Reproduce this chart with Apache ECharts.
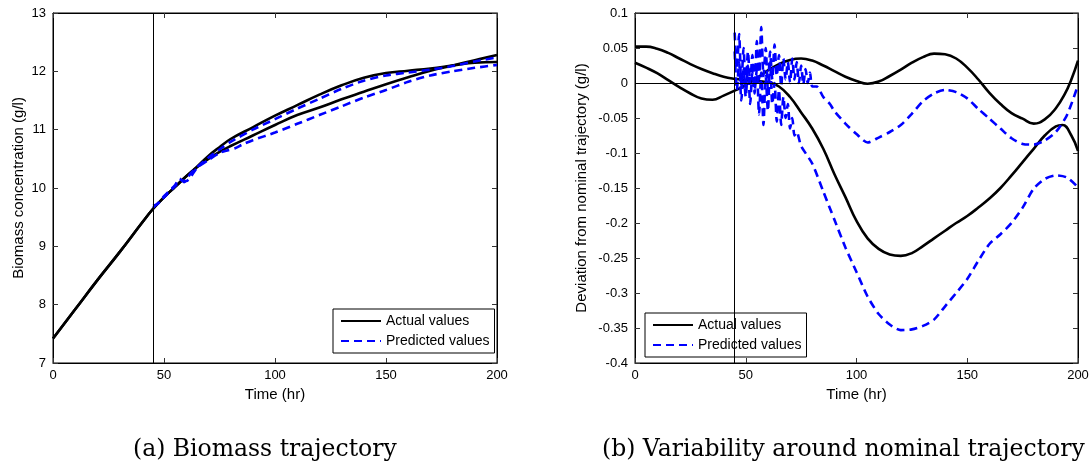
<!DOCTYPE html>
<html>
<head>
<meta charset="utf-8">
<script src="https://cdn.jsdelivr.net/npm/echarts@6/dist/echarts.min.js"></script>
<style>
    html, body { margin: 0; padding: 0; background: #fff; }
    #chart { width: 1092px; height: 466px; }
</style>
</head>
<body>
<div id="chart"></div>
<script>
    // (a) biomass trajectory, [time, g/l]
    var biomassActual1 = [[0,7.42],[10,7.92],[20,8.42],[30,8.9],[40,9.4],[45,9.64],[50,9.84],[55,10.02],[60,10.2],[65,10.37],[70,10.55],[75,10.7],[80,10.84],[90,11.04],[100,11.24],[110,11.42],[120,11.6],[130,11.76],[140,11.89],[150,11.97],[160,12.01],[170,12.05],[180,12.1],[190,12.15],[200,12.16]];
    var biomassActual2 = [[0,7.42],[10,7.92],[20,8.42],[30,8.9],[40,9.4],[45,9.64],[50,9.84],[55,10.02],[60,10.2],[65,10.36],[70,10.5],[75,10.62],[80,10.72],[90,10.9],[100,11.08],[110,11.25],[120,11.38],[130,11.52],[140,11.65],[150,11.78],[160,11.9],[170,12.01],[180,12.1],[190,12.19],[200,12.28]];
    var biomassPred1 = [[45,9.7],[47,9.72],[50,9.86],[55,10.05],[57,10.16],[59,10.1],[62,10.25],[65,10.36],[70,10.52],[75,10.66],[80,10.79],[90,11.0],[100,11.18],[110,11.36],[120,11.53],[130,11.7],[140,11.84],[150,11.93],[160,11.98],[170,12.03],[180,12.09],[190,12.17],[200,12.24]];
    var biomassPred2 = [[45,9.66],[50,9.84],[55,10.03],[58,10.13],[60,10.12],[65,10.35],[70,10.48],[75,10.6],[78,10.64],[82,10.68],[85,10.74],[90,10.82],[100,10.95],[110,11.1],[120,11.25],[130,11.4],[140,11.55],[150,11.68],[160,11.82],[170,11.93],[180,12.0],[190,12.06],[200,12.11]];

    // (b) deviation from nominal trajectory, [time, g/l]
    var devActual1 = [[0,0.029],[5,0.022],[10,0.014],[15,0.004],[20,-0.006],[25,-0.015],[30,-0.022],[35,-0.024],[40,-0.018],[45,-0.011],[50,-0.003],[55,0.007],[60,0.018],[65,0.027],[70,0.033],[75,0.035],[80,0.032],[85,0.025],[90,0.017],[95,0.009],[100,0.003],[105,-0.001],[110,0.002],[115,0.01],[120,0.019],[125,0.029],[130,0.037],[135,0.042],[140,0.041],[145,0.035],[150,0.022],[155,0.005],[160,-0.014],[165,-0.03],[170,-0.043],[175,-0.051],[180,-0.058],[185,-0.052],[190,-0.036],[194,-0.016],[197,0.005],[200,0.032]];
    var devActual2 = [[0,0.052],[5,0.052],[10,0.049],[15,0.043],[20,0.035],[25,0.027],[30,0.02],[35,0.014],[40,0.009],[45,0.006],[50,0.004],[55,0.003],[60,0.001],[65,-0.005],[70,-0.02],[75,-0.042],[80,-0.065],[85,-0.094],[90,-0.13],[95,-0.163],[100,-0.197],[105,-0.222],[110,-0.237],[115,-0.245],[120,-0.247],[125,-0.243],[130,-0.233],[135,-0.222],[140,-0.211],[145,-0.2],[150,-0.19],[155,-0.178],[160,-0.165],[165,-0.15],[170,-0.132],[175,-0.113],[180,-0.094],[185,-0.075],[190,-0.062],[193,-0.06],[197,-0.075],[200,-0.097]];
    var devPred1 = [[45,0.072],[46,0.02],[47,0.07],[48,-0.005],[49,0.05],[50,-0.01],[51,0.045],[52,0.0],[53,0.04],[54,-0.015],[55,0.06],[56,0.005],[57,0.08],[58,0.01],[59,0.05],[60,-0.01],[61,0.045],[62,0.005],[63,0.055],[64,0.01],[65,0.04],[66,-0.005],[67,0.035],[68,0.005],[69,0.03],[70,0.0],[71,0.035],[72,0.005],[73,0.03],[74,0.0],[75,0.025],[76,-0.002],[77,0.02],[78,0.0],[79,0.015],[80,-0.005],[82,-0.005],[85,-0.02],[88,-0.03],[90,-0.04],[95,-0.058],[100,-0.073],[105,-0.085],[110,-0.078],[115,-0.07],[120,-0.06],[125,-0.044],[130,-0.026],[135,-0.015],[140,-0.01],[145,-0.013],[150,-0.022],[155,-0.037],[160,-0.051],[165,-0.065],[170,-0.079],[175,-0.087],[180,-0.088],[185,-0.082],[190,-0.07],[195,-0.046],[200,-0.003]];
    var devPred2 = [[45,0.045],[46,-0.01],[47,0.03],[48,-0.025],[49,0.02],[50,-0.02],[51,0.025],[52,-0.03],[53,0.015],[54,-0.01],[55,0.02],[56,-0.045],[57,0.015],[58,-0.06],[59,0.01],[60,-0.04],[61,0.03],[62,-0.03],[63,0.0],[64,-0.055],[65,-0.01],[66,-0.06],[67,-0.02],[68,-0.05],[69,-0.03],[70,-0.065],[71,-0.05],[72,-0.075],[73,-0.07],[75,-0.09],[80,-0.115],[85,-0.155],[90,-0.195],[95,-0.235],[100,-0.27],[105,-0.305],[110,-0.33],[115,-0.345],[120,-0.353],[125,-0.352],[130,-0.347],[135,-0.338],[140,-0.319],[145,-0.3],[150,-0.28],[155,-0.254],[160,-0.23],[165,-0.216],[170,-0.2],[175,-0.178],[180,-0.151],[185,-0.137],[190,-0.132],[195,-0.135],[200,-0.149]];

    var switchTime = 45;
    var xTicks = [0, 200, 50];          // min, max, interval
    var biomassTicks = [7, 13, 1];
    var devTicks = [-0.4, 0.1, 0.05];
    var names = ['Actual values', 'Predicted values'];

    var sans = 'Liberation Sans';
    var chart = echarts.init(document.getElementById('chart'));

    function xAx(grid, top) {
        return {
            type: 'value', gridIndex: grid, min: xTicks[0], max: xTicks[1], interval: xTicks[2],
            position: top ? 'top' : 'bottom',
            name: top ? '' : 'Time (hr)', nameLocation: 'middle', nameGap: 24,
            nameTextStyle: { fontFamily: sans, fontSize: 15, color: '#000' },
            axisLine: { show: true, onZero: false, lineStyle: { color: '#000', width: 1 } },
            axisTick: { inside: true, length: 5, lineStyle: { color: '#333' } },
            axisLabel: { show: !top, fontFamily: sans, fontSize: 13, color: '#000', margin: 6 },
            splitLine: { show: false }
        };
    }
    function yAx(grid, right, ticks, name, gap) {
        return {
            type: 'value', gridIndex: grid, min: ticks[0], max: ticks[1], interval: ticks[2],
            position: right ? 'right' : 'left',
            name: right ? '' : name, nameLocation: 'middle', nameGap: gap,
            nameTextStyle: { fontFamily: sans, fontSize: 15, color: '#000' },
            axisLine: { show: true, onZero: false, lineStyle: { color: '#000', width: 1 } },
            axisTick: { inside: true, length: 5, lineStyle: { color: '#333' } },
            axisLabel: { show: !right, fontFamily: sans, fontSize: 13, color: '#000', margin: 7 },
            splitLine: { show: false }
        };
    }
    function line(name, data, grid, dashed, mark) {
        var s = {
            name: name, type: 'line', data: data, xAxisIndex: grid * 2, yAxisIndex: grid * 2,
            symbol: 'none', smooth: dashed ? 0.25 : 0.45, silent: true, animation: false,
            lineStyle: { color: dashed ? '#0000ff' : '#000', width: 2.6, type: dashed ? [8, 5] : 'solid' },
            itemStyle: { color: dashed ? '#0000ff' : '#000' }
        };
        if (mark) {
            s.markLine = {
                silent: true, symbol: 'none', animation: false, label: { show: false },
                lineStyle: { color: '#000', width: 1, type: 'solid' },
                data: mark
            };
        }
        return s;
    }
    function legendAt(left, top) {
        return {
            data: names, orient: 'vertical', left: left, top: top, itemWidth: 40, itemHeight: 10, itemGap: 6,
            padding: [5, 5, 5, 7], borderColor: '#000', borderWidth: 1, backgroundColor: '#fff',
            itemStyle: { opacity: 0 },
            textStyle: { fontFamily: sans, fontSize: 14, color: '#000' }, selectedMode: false
        };
    }

    var option = {
        backgroundColor: '#fff',
        animation: false,
        grid: [
            { left: 53, top: 13, width: 444, height: 350, show: true, borderColor: '#000', borderWidth: 1 },
            { left: 635, top: 13, width: 443, height: 350, show: true, borderColor: '#000', borderWidth: 1 }
        ],
        xAxis: [xAx(0, false), xAx(0, true), xAx(1, false), xAx(1, true)],
        yAxis: [
            yAx(0, false, biomassTicks, 'Biomass concentration (g/l)', 27),
            yAx(0, true, biomassTicks, '', 0),
            yAx(1, false, devTicks, 'Deviation from nominal trajectory (g/l)', 46),
            yAx(1, true, devTicks, '', 0)
        ],
        legend: [legendAt(333, 309), legendAt(645, 313)],
        series: [
            line(names[0], biomassActual1, 0, false, [{ xAxis: switchTime }]),
            line(names[0], biomassActual2, 0, false),
            line(names[1], biomassPred1, 0, true),
            line(names[1], biomassPred2, 0, true),
            line(names[0], devActual1, 1, false, [{ xAxis: switchTime }, { yAxis: 0 }]),
            line(names[0], devActual2, 1, false),
            line(names[1], devPred1, 1, true),
            line(names[1], devPred2, 1, true)
        ],
        graphic: [
            { type: 'text', left: 133, top: 438, style: { text: '(a) Biomass trajectory', font: '23.5px "DejaVu Serif"', fill: '#000' } },
            { type: 'text', left: 602, top: 438, style: { text: '(b) Variability around nominal trajectory', font: '23.5px "DejaVu Serif"', fill: '#000' } }
        ]
    };
    chart.setOption(option);
</script>
</body>
</html>
